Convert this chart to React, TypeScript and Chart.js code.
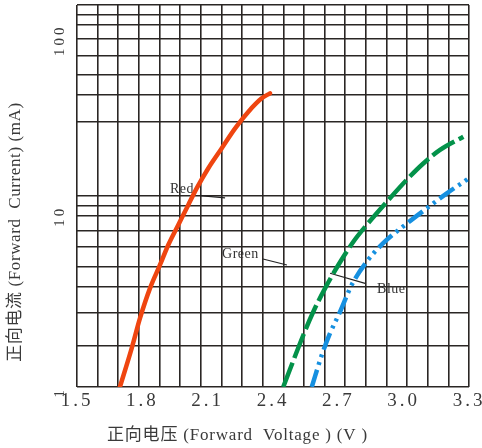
import React, { useEffect, useRef } from "react";
import { Chart, registerables } from "chart.js";

Chart.register(...registerables);

// ---- data (forward voltage V, forward current mA) ----
const RED_V = [1.697, 1.751, 1.789, 1.835, 1.881, 1.919, 1.965, 2.011, 2.05, 2.103, 2.164, 2.226, 2.287, 2.348, 2.386];
const RED_MA = [1.0, 1.635, 2.39, 3.5, 4.71, 6.07, 7.83, 10.1, 12.5, 16.1, 20.7, 26.7, 33.0, 39.1, 41.7];
const GREEN_V = [2.447, 2.539, 2.585, 2.639, 2.7, 2.769, 2.83, 2.922, 3.014, 3.09, 3.167, 3.274];
const GREEN_MA = [1.0, 1.93, 2.6, 3.5, 4.71, 6.33, 7.83, 10.5, 13.9, 17.1, 20.3, 24.0];
const BLUE_V = [2.578, 2.624, 2.662, 2.708, 2.761, 2.83, 2.906, 3.006, 3.106, 3.198, 3.289, 3.3];
const BLUE_MA = [1.0, 1.5, 1.98, 2.6, 3.65, 4.91, 6.21, 7.83, 9.68, 11.7, 13.9, 14.2];

// ---- axes ----
const X_MIN = 1.5;
const X_MAX = 3.3;
const X_LABELS = [1.5, 1.8, 2.1, 2.4, 2.7, 3.0, 3.3];
const X_GRID_DIVISIONS = 19;
const Y_MIN = 1;
const Y_MAX = 128;
const Y_GRID = [1, 1.68, 2.56, 3.58, 4.62, 5.96, 7.3, 8.8, 10, 11.4, 29, 41, 53, 67, 83, 100, 113, 128];
const Y_LABELS = [1, 10, 100];

// ---- annotations (in data units) ----
const NOTE_TEXT = ["Red", "Green", "Blue"];
const NOTE_AT = [[1.927, 11.75], [2.166, 5.15], [2.878, 3.3]];
const LEADER_FROM = [[2.065, 11.36], [2.354, 5.08], [2.662, 4.24]];
const LEADER_TO = [[2.18, 11.06], [2.464, 4.71], [2.823, 3.73]];

const X_TITLE = "正向电压 (Forward  Voltage ) (V )";
const Y_TITLE = "正向电流 (Forward  Current) (mA)";

const SERIF = '"Liberation Serif", "Noto Sans CJK SC", serif';
const GRID_COLOR = "#2a2624";

const pts = (xs: number[], ys: number[]) => xs.map((x, i) => ({ x, y: ys[i] }));

const textPlugin = {
  id: "textPlugin",
  beforeDraw(chart: any) {
    chart.ctx.letterSpacing = "3px";
  },
  beforeDatasetsDraw(chart: any) {
    const ctx = chart.ctx;
    const xs = chart.scales.x;
    const ys = chart.scales.y;
    ctx.save();
    ctx.letterSpacing = "0.5px";
    ctx.strokeStyle = "#222";
    ctx.lineWidth = 1.2;
    for (let i = 0; i < NOTE_TEXT.length; i++) {
      ctx.beginPath();
      ctx.moveTo(xs.getPixelForValue(LEADER_FROM[i][0]), ys.getPixelForValue(LEADER_FROM[i][1]));
      ctx.lineTo(xs.getPixelForValue(LEADER_TO[i][0]), ys.getPixelForValue(LEADER_TO[i][1]));
      ctx.stroke();
      ctx.font = `14px ${SERIF}`;
      ctx.fillStyle = "#333";
      ctx.textAlign = "left";
      ctx.textBaseline = "alphabetic";
      ctx.fillText(NOTE_TEXT[i], xs.getPixelForValue(NOTE_AT[i][0]), ys.getPixelForValue(NOTE_AT[i][1]));
    }
    ctx.restore();
  },
  afterDraw(chart: any) {
    const ctx = chart.ctx;
    ctx.save();
    ctx.letterSpacing = "0.8px";
    ctx.fillStyle = "#3a3a3a";
    ctx.font = `17px ${SERIF}`;
    ctx.textAlign = "left";
    ctx.textBaseline = "middle";
    ctx.fillText(X_TITLE, 107, 436);
    ctx.translate(16, 232);
    ctx.rotate(-Math.PI / 2);
    ctx.textAlign = "center";
    ctx.letterSpacing = "0.6px";
    ctx.font = `17px ${SERIF}`;
    ctx.fillText(Y_TITLE, 0, 0);
    ctx.restore();
    ctx.letterSpacing = "0px";
  },
};

export default function App() {
  const ref = useRef<HTMLCanvasElement | null>(null);
  useEffect(() => {
    if (!ref.current) return;
    const chart = new Chart(ref.current, {
      type: "line",
      data: {
        datasets: [
          {
            label: "Red",
            data: pts(RED_V, RED_MA),
            borderColor: "#ef4510",
            borderWidth: 4.5,
            borderCapStyle: "round",
            pointRadius: 0,
            cubicInterpolationMode: "monotone",
            xAxisID: "x",
          },
          {
            label: "Green",
            data: pts(GREEN_V, GREEN_MA),
            borderColor: "#03924a",
            borderWidth: 4.5,
            borderDash: [26, 5],
            pointRadius: 0,
            cubicInterpolationMode: "monotone",
            xAxisID: "x",
          },
          {
            label: "Blue",
            data: pts(BLUE_V, BLUE_MA),
            borderColor: "#1690e0",
            borderWidth: 4.5,
            borderDash: [18, 5, 3, 5, 3, 5],
            pointRadius: 0,
            cubicInterpolationMode: "monotone",
            xAxisID: "x",
          },
        ],
      },
      options: {
        animation: false,
        responsive: true,
        maintainAspectRatio: false,
        layout: { padding: { top: 5, right: 13, left: 0, bottom: 0 } },
        plugins: { legend: { display: false }, tooltip: { enabled: false } },
        scales: {
          x: {
            type: "linear",
            position: "bottom",
            min: X_MIN,
            max: X_MAX,
            afterBuildTicks: (s: any) => {
              s.ticks = X_LABELS.map((v) => ({ value: v }));
            },
            afterFit: (s: any) => {
              s.height = 61;
              s.paddingLeft = 0;
              s.paddingRight = 0;
            },
            grid: { display: false, drawTicks: false },
            border: { display: false },
            ticks: {
              autoSkip: false,
              maxRotation: 0,
              minRotation: 0,
              padding: 3,
              color: "#3a3a3a",
              font: { family: SERIF, size: 19 },
              callback: (v: any) => Number(v).toFixed(1),
            },
          },
          xg: {
            type: "linear",
            position: "bottom",
            min: X_MIN,
            max: X_MAX,
            afterBuildTicks: (s: any) => {
              const t = [];
              for (let i = 0; i <= X_GRID_DIVISIONS; i++) {
                t.push({ value: X_MIN + ((X_MAX - X_MIN) * i) / X_GRID_DIVISIONS });
              }
              s.ticks = t;
            },
            afterFit: (s: any) => {
              s.height = 0;
              s.paddingLeft = 0;
              s.paddingRight = 0;
            },
            grid: { color: GRID_COLOR, lineWidth: 1.6, drawTicks: false },
            border: { display: false },
            ticks: { display: false, autoSkip: false },
          },
          y: {
            type: "logarithmic",
            min: Y_MIN,
            max: Y_MAX,
            afterBuildTicks: (s: any) => {
              s.ticks = Y_GRID.map((v) => ({ value: v }));
            },
            afterFit: (s: any) => {
              s.width = 77;
              s.paddingTop = 0;
              s.paddingBottom = 0;
            },
            grid: { color: GRID_COLOR, lineWidth: 1.6, drawTicks: false },
            border: { display: false },
            ticks: {
              autoSkip: false,
              minRotation: 90,
              maxRotation: 90,
              padding: 17,
              color: "#3a3a3a",
              font: { family: SERIF, size: 15 },
              callback: (v: any) => (Y_LABELS.includes(Number(v)) ? String(v) : ""),
            },
          },
        },
      },
      plugins: [textPlugin],
    } as any);
    return () => chart.destroy();
  }, []);

  return (
    <div style={{ position: "fixed", left: 0, top: 0, width: 482, height: 448, background: "#fff" }}>
      <canvas ref={ref} />
    </div>
  );
}
